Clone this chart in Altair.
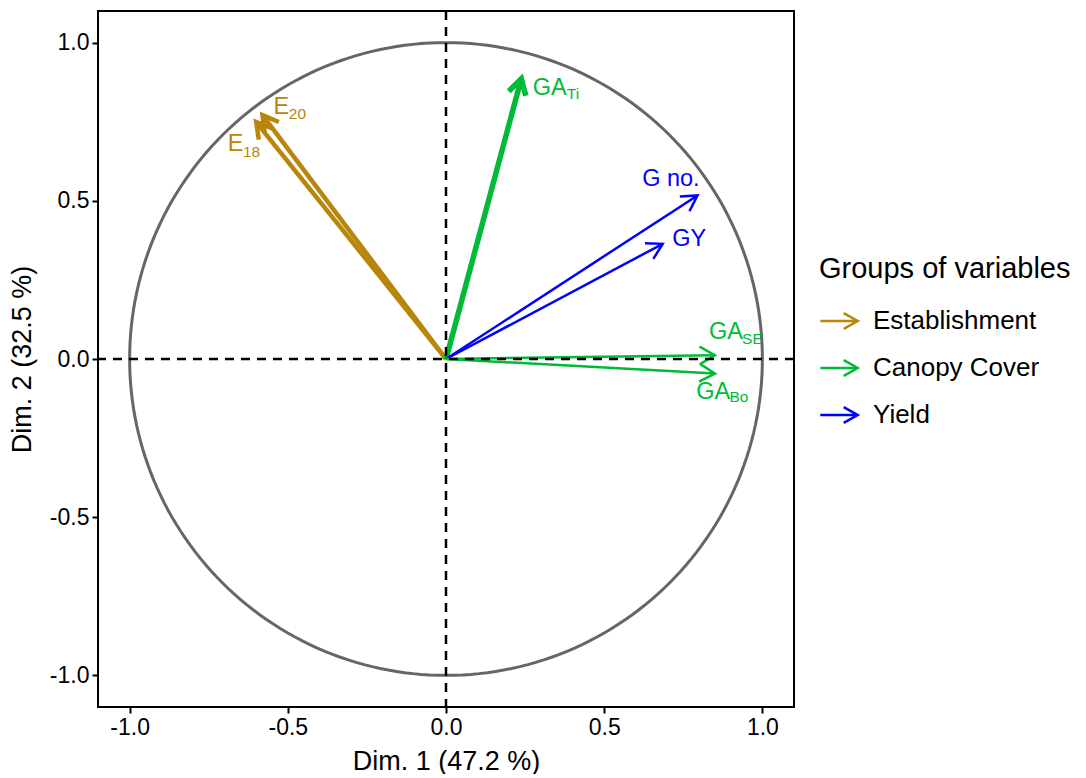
import numpy as np
import pandas as pd
import altair as alt

# ---- data ----
var_names = ["E18", "E20", "GA_Ti", "G no.", "GY", "GA_SE", "GA_Bo"]
groups = ["Establishment", "Establishment", "Canopy Cover", "Yield", "Yield",
          "Canopy Cover", "Canopy Cover"]
dim1 = [-0.600, -0.580, 0.238, 0.795, 0.685, 0.850, 0.850]
dim2 = [0.749, 0.771, 0.886, 0.517, 0.364, 0.012, -0.046]

base_text = ["E", "E", "GA", "G no.", "GY", "GA", "GA"]
sub_text = ["18", "20", "Ti", "", "", "SE", "Bo"]
label_x = [-0.690, -0.545, 0.274, 0.620, 0.715, 0.831, 0.791]
label_y = [0.657, 0.774, 0.834, 0.547, 0.357, 0.063, -0.126]
sub_x = [-0.642, -0.497, 0.382, None, None, 0.936, 0.896]
sub_y = [0.638, 0.758, 0.821, None, None, 0.047, -0.136]

group_order = ["Establishment", "Canopy Cover", "Yield"]
group_colors = ["#B8860B", "#00BA38", "#0000FF"]
tick_values = [-1.0, -0.5, 0.0, 0.5, 1.0]

# ---- styles ----
arrow_width = {"E18": 4.5, "E20": 4.5, "GA_Ti": 5.5, "G no.": 2.5, "GY": 2.5,
               "GA_SE": 2.5, "GA_Bo": 2.5}
head_len = 0.056
head_ang = np.deg2rad(30)
color_of = dict(zip(group_order, group_colors))

# ---- build arrow segments ----
rows = []
for n, g, x, y in zip(var_names, groups, dim1, dim2):
    w = arrow_width[n]
    rows.append(dict(seg=n + "_s", o=0, x=0.0, y=0.0, group=g, w=w))
    rows.append(dict(seg=n + "_s", o=1, x=x, y=y, group=g, w=w))
    th = np.arctan2(y, x)
    a1 = (x - head_len * np.cos(th - head_ang), y - head_len * np.sin(th - head_ang))
    a2 = (x - head_len * np.cos(th + head_ang), y - head_len * np.sin(th + head_ang))
    rows.append(dict(seg=n + "_h", o=0, x=a1[0], y=a1[1], group=g, w=w))
    rows.append(dict(seg=n + "_h", o=1, x=x, y=y, group=g, w=w))
    rows.append(dict(seg=n + "_h", o=2, x=a2[0], y=a2[1], group=g, w=w))
arrows = pd.DataFrame(rows)

t = np.linspace(0, 2 * np.pi, 241)
circle = pd.DataFrame({"x": np.cos(t), "y": np.sin(t), "o": np.arange(len(t))})

labels = pd.DataFrame({"x": label_x, "y": label_y, "text": base_text,
                       "col": [color_of[g] for g in groups]})
subs = pd.DataFrame({"x": sub_x, "y": sub_y, "text": sub_text,
                     "col": [color_of[g] for g in groups]}).dropna()

FONT = "Liberation Sans"
dom = [-1.1, 1.1]
label_expr = ("datum.value < 0 ? '-' + format(-datum.value, '.1f') : "
              "format(datum.value, '.1f')")

xs = alt.Scale(domain=dom, nice=False, zero=False)
ys = alt.Scale(domain=dom, nice=False, zero=False)
xax = alt.Axis(values=tick_values, labelExpr=label_expr, title="Dim. 1 (47.2 %)")
yax = alt.Axis(values=tick_values, labelExpr=label_expr, title="Dim. 2 (32.5 %)")
color = alt.Color("group:N", scale=alt.Scale(domain=group_order, range=group_colors),
                  title="Groups of variables",
                  legend=alt.Legend(symbolType="M-1,0L1,0M0.25,-0.42L1,0L0.25,0.42",
                                    symbolSize=1400, symbolStrokeWidth=2.5,
                                    symbolFillColor="transparent",
                                    titleLimit=500, labelLimit=400,
                                    orient="none", legendX=721, legendY=244))

circ = alt.Chart(circle).mark_line(color="#666666", strokeWidth=3).encode(
    x=alt.X("x:Q", scale=xs, axis=xax),
    y=alt.Y("y:Q", scale=ys, axis=yax),
    order="o:Q",
)

arr = alt.Chart(arrows).mark_line(strokeJoin="miter", strokeCap="butt").encode(
    x="x:Q", y="y:Q", detail="seg:N", order="o:Q",
    color=color,
    strokeWidth=alt.StrokeWidth("w:Q", scale=None, legend=None),
)

hline = alt.Chart(pd.DataFrame({"v": [0.0]})).mark_rule(
    color="black", strokeWidth=2.5, strokeDash=[9, 7]).encode(y=alt.Y("v:Q"))
vline = alt.Chart(pd.DataFrame({"v": [0.0]})).mark_rule(
    color="black", strokeWidth=2.5, strokeDash=[9, 7]).encode(x=alt.X("v:Q"))

txt = alt.Chart(labels).mark_text(align="left", baseline="alphabetic", fontSize=23.5,
                                  font=FONT).encode(
    x="x:Q", y="y:Q", text="text:N", color=alt.Color("col:N", scale=None))
subtxt = alt.Chart(subs).mark_text(align="left", baseline="alphabetic", fontSize=15.5,
                                   font=FONT).encode(
    x="x:Q", y="y:Q", text="text:N", color=alt.Color("col:N", scale=None))

chart = alt.layer(circ, arr, hline, vline, txt, subtxt).properties(
    width=696, height=696,
    padding={"left": 0, "top": 1, "right": 0, "bottom": 0},
).configure_view(stroke="black", strokeWidth=2).configure_axis(
    grid=False, domain=False, tickColor="black", tickWidth=2, tickSize=6,
    labelFont=FONT, labelFontSize=23, labelColor="black", labelPadding=3,
    titleFont=FONT, titleFontSize=27, titleFontWeight="normal", titleColor="black",
    titlePadding=9,
).configure_axisY(titlePadding=13).configure_legend(
    titleFont=FONT, titleFontSize=29, titleFontWeight="normal", titleColor="black",
    labelFont=FONT, labelFontSize=26, labelColor="black", labelOffset=14,
    rowPadding=14, titlePadding=17,
)

chart.save("out.html", embed_options={"renderer": "svg", "actions": False})
